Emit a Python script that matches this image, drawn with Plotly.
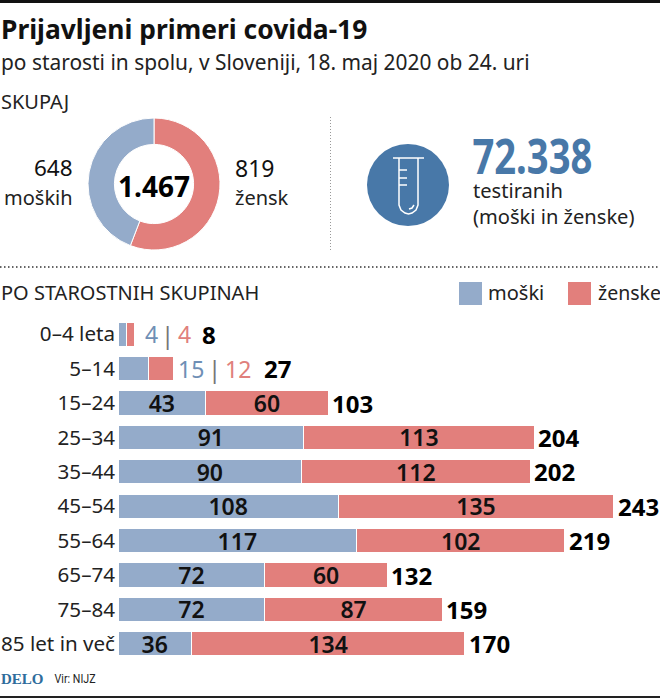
import plotly.graph_objects as go

W, H = 660, 698
FONT = "Noto Sans"
BLUE = "#94abca"
RED = "#e27f7c"
DBLUE = "#4878a8"
LBLUE = "#6f8fb5"
LRED = "#e0807c"

age_groups = ["0–4 leta", "5–14", "15–24", "25–34", "35–44", "45–54", "55–64", "65–74", "75–84", "85 let in več"]
men = [4, 15, 43, 91, 90, 108, 117, 72, 72, 36]
women = [4, 12, 60, 113, 112, 135, 102, 60, 87, 134]
totals = [8, 27, 103, 204, 202, 243, 219, 132, 159, 170]
donut_labels = ["ženske", "moški"]
donut_values = [819, 648]
donut_total = "1.467"
tested = "72.338"


def px(x):
    return x / W


def py(y):
    return 1 - y / H


def text(x, y, s, size, color="#1a1a1a", bold=False, anchor="left", family=FONT):
    return dict(x=px(x), y=py(y), xref="paper", yref="paper", text=s,
                showarrow=False, xanchor=anchor, yanchor="middle",
                font=dict(family=family, size=size, color=color, weight=700 if bold else 400))


def pth(points, color, w):
    d = " ".join(("M" if i == 0 else "L") + f"{px(a)},{py(b)}" for i, (a, b) in enumerate(points))
    return dict(type="path", xref="paper", yref="paper", path=d, line=dict(color=color, width=w))


fig = go.Figure()
inner = lambda a, t: [str(v) if v >= t else "" for v in a]
for vals, col in ((men, BLUE), (women, RED)):
    fig.add_bar(y=age_groups, x=vals, orientation="h", marker=dict(color=col, line=dict(color="white", width=1)),
                text=inner(vals, 30), textposition="inside", insidetextanchor="middle", textangle=0,
                constraintext="none", textfont=dict(family=FONT, size=23, color="#111", weight=600), cliponaxis=False)
fig.add_pie(labels=donut_labels, values=donut_values, sort=False, direction="clockwise", rotation=0, hole=0.6,
            marker=dict(colors=[RED, BLUE], line=dict(color="white", width=1)), textinfo="none",
            domain=dict(x=[px(88), px(220)], y=[py(250), py(118)]))

ann = [
    text(-1, 29, "Prijavljeni primeri covida-19", 26.4, "#111", True),
    text(-1, 62, "po starosti in spolu, v Sloveniji, 18. maj 2020 ob 24. uri", 20.9, "#222"),
    text(-1, 101, "SKUPAJ", 20, "#222"),
    text(75, 168, "648", 22.5, "#111", anchor="right"),
    text(75, 197, "moških", 20, "#222", anchor="right"),
    text(233, 168, "819", 23, "#111"),
    text(233, 197, "žensk", 20, "#222"),
    text(153.5, 186, donut_total, 28, "#000", True, "center"),
    text(532, 155, tested, 48, DBLUE, True, "center"),
    text(471, 190, "testiranih", 20.1, "#222"),
    text(471, 216, "(moški in ženske)", 20.1, "#222"),
    text(-1, 292, "PO STAROSTNIH SKUPINAH", 20, "#222"),
    text(486, 293, "moški", 20, "#222"),
    text(595.5, 293, "ženske", 19.5, "#222"),
    text(-1, 679, "DELO", 15, "#2f6d9c", True, family="Liberation Serif"),
    text(74.5, 679, "Vir: NIJZ", 12, "#222", anchor="center", family="Roboto"),
]
# totals beside the bars
for i in range(2, len(age_groups)):
    ann.append(dict(x=totals[i], y=age_groups[i], xref="x", yref="y", text=str(totals[i]), showarrow=False,
                    xanchor="left", yanchor="middle", xshift=2,
                    font=dict(family=FONT, size=24, color="#000", weight=700)))
# small rows: men | women total, offsets in pixels from the axis start
small = [
    [(33, men[0], LBLUE, 23, 400), (49, "|", "#777", 24, 400), (66, women[0], LRED, 23, 400), (91, totals[0], "#000", 24, 700)],
    [(73, men[1], LBLUE, 23, 400), (96, "|", "#777", 24, 400), (119.5, women[1], LRED, 23, 400), (159.5, totals[1], "#000", 24, 700)],
]
for i, row in enumerate(small):
    for dx, s, c, fs, wt in row:
        ann.append(dict(x=0, y=age_groups[i], xref="x", yref="y", xshift=dx, showarrow=False,
                        xanchor="center", yanchor="middle", text=str(s),
                        font=dict(family=FONT, size=fs, color=c, weight=wt)))

shapes = [
    dict(type="rect", xref="paper", yref="paper", x0=0, x1=1, y0=py(3), y1=1, fillcolor="#111", line_width=0),
    dict(type="rect", xref="paper", yref="paper", x0=0, x1=1, y0=0, y1=py(696), fillcolor="#222", line_width=0),
    dict(type="line", xref="paper", yref="paper", x0=0, x1=1, y0=py(267), y1=py(267),
         line=dict(color="#333", width=1.5, dash="1.5px,2.5px")),
    dict(type="line", xref="paper", yref="paper", x0=px(330.5), x1=px(330.5), y0=py(117), y1=py(250),
         line=dict(color="#999", width=1, dash="1px,2px")),
    dict(type="circle", xref="paper", yref="paper", x0=px(367), x1=px(449), y0=py(226), y1=py(144),
         fillcolor=DBLUE, line_width=0),
    dict(type="rect", xref="paper", yref="paper", x0=px(459), x1=px(482), y0=py(305), y1=py(282), fillcolor=BLUE, line_width=0),
    dict(type="rect", xref="paper", yref="paper", x0=px(568), x1=px(591), y0=py(305), y1=py(282), fillcolor=RED, line_width=0),
    pth([(393, 158), (424, 158)], "white", 1.5),
    pth([(399, 158), (399, 205), (401, 210), (405, 213), (408.5, 214), (412, 213), (416, 210), (418, 205), (418, 158)], "white", 1.5),
    pth([(399, 170), (407, 170)], "white", 1.5),
    pth([(399, 178), (407, 178)], "white", 1.5),
    pth([(399, 185), (407, 185)], "white", 1.5),
    pth([(409, 209), (412, 208), (414, 205)], "white", 1.5),
]

fig.update_layout(
    width=W, height=H, margin=dict(l=0, r=0, t=0, b=0), paper_bgcolor="white", plot_bgcolor="white",
    barmode="stack", bargap=0.3, showlegend=False, annotations=ann, shapes=shapes,
    xaxis=dict(domain=[px(118), 1], range=[0, 542 / 2.04], visible=False),
    yaxis=dict(domain=[py(662.3), py(315.7)], autorange="reversed", categoryorder="array", categoryarray=age_groups,
               showline=False, showgrid=False, zeroline=False, ticks="", ticklen=0, ticklabelstandoff=2,
               tickfont=dict(family=FONT, size=20.6, color="#222")),
)
post = """
document.body.style.margin='0';document.body.style.overflow='hidden';
var fit={'72.338':120,'Vir: NIJZ':41};
document.querySelectorAll('text.annotation-text').forEach(function(t){
  var w=fit[t.textContent];
  if(w){t.setAttribute('textLength',w);t.setAttribute('lengthAdjust','spacingAndGlyphs');}
});
"""
fig.write_html("out.html", post_script=post, config=dict(displayModeBar=False))
